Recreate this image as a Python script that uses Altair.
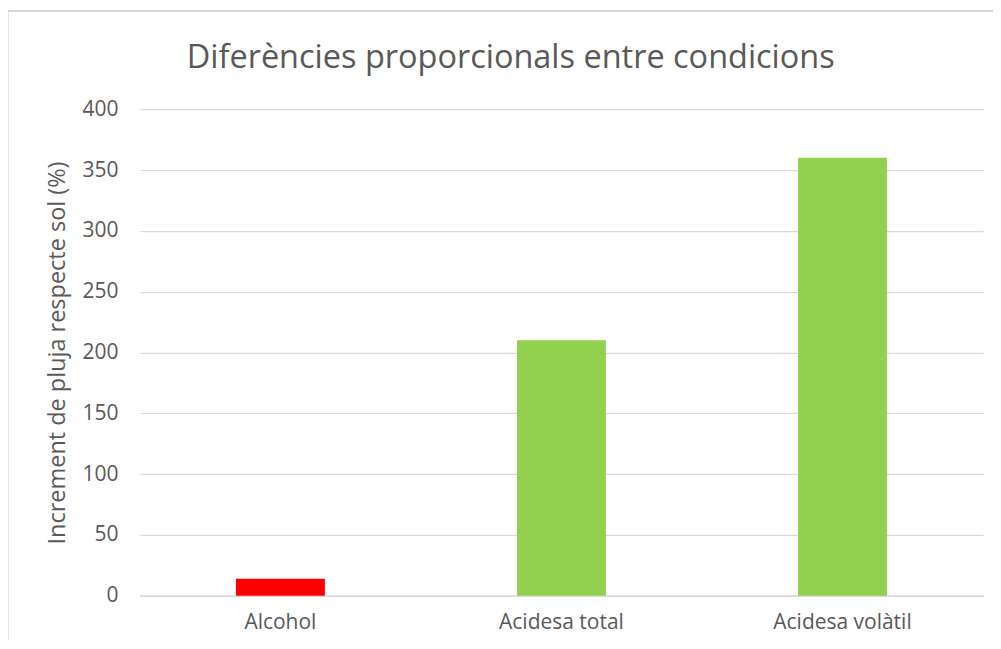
import altair as alt
import pandas as pd

categories = ["Alcohol", "Acidesa total", "Acidesa volàtil"]
values = [14, 210, 360]
colors = ["#ff0000", "#92d050", "#92d050"]

df = pd.DataFrame({"cat": categories, "val": values, "col": colors})

FONT = "Open Sans"
GREY = "#595959"

bars = alt.Chart(df).mark_bar(size=89).encode(
    x=alt.X("cat:N", sort=categories, title=None,
            scale=alt.Scale(paddingInner=0, paddingOuter=0),
            axis=alt.Axis(labelAngle=0, labelFont=FONT, labelFontSize=21, labelColor=GREY,
                          labelPadding=16, ticks=False, domain=True, domainColor="#d9d9d9",
                          domainWidth=1.5, grid=False)),
    y=alt.Y("val:Q", title="Increment de pluja respecte sol (%)",
            scale=alt.Scale(domain=[0, 400]),
            axis=alt.Axis(values=list(range(0, 401, 50)), labelFont=FONT, labelFontSize=21,
                          labelColor=GREY, labelPadding=22, ticks=False, domain=False,
                          gridColor="#d9d9d9", gridWidth=1.3,
                          titleFont=FONT, titleFontSize=23.5, titleFontWeight="normal",
                          titleColor=GREY, titlePadding=12)),
    color=alt.Color("col:N", scale=None, legend=None),
)

frame = alt.Chart(df).mark_rect(fill=None, stroke="#d4d4d4", strokeWidth=1.5).encode(
    x=alt.value(-132.5), x2=alt.value(875), y=alt.value(-98.5), y2=alt.value(600)
)

chart = alt.layer(frame, bars).properties(
    width=844, height=487,
    autosize=alt.AutoSizeParams(type="none"),
    padding={"left": 132, "top": 101, "right": 10, "bottom": 45},
    title=alt.Title("Diferències proporcionals entre condicions", font=FONT, fontSize=32.5,
                    fontWeight="normal", color=GREY, anchor="middle", frame="bounds",
                    baseline="alphabetic", offset=-90),
).configure_view(stroke=None)

chart.save("out.html", embed_options={"renderer": "svg", "actions": False})
